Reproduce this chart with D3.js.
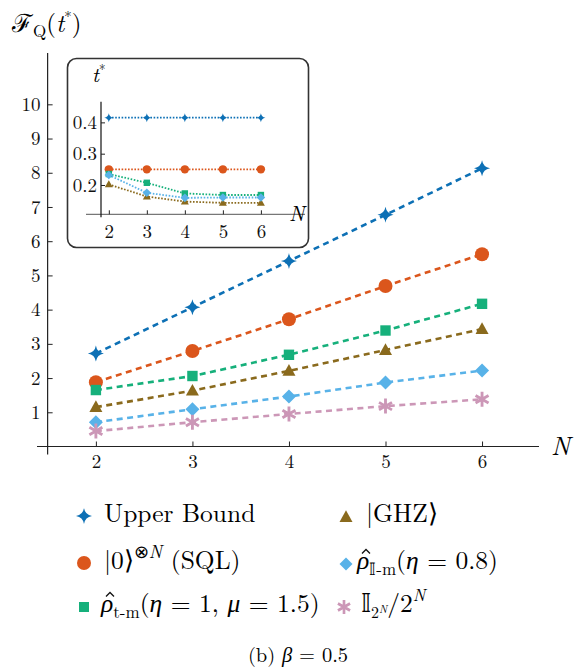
<!DOCTYPE html>
<html>
<head>
<meta charset="utf-8">
<script src="https://cdn.jsdelivr.net/npm/d3@7"></script>
<style>
  body { margin: 0; background: #fff; }
  svg { display: block; }
</style>
</head>
<body>
<div class="chart"></div>
<script>
// Main plot data: F_Q(t*) against N
const N = [2, 3, 4, 5, 6];
const upperBound = [2.72, 4.07, 5.42, 6.77, 8.13];
const sql = [1.88, 2.79, 3.72, 4.69, 5.62];
const tMixed = [1.65, 2.06, 2.68, 3.39, 4.17];
const ghz = [1.15, 1.63, 2.21, 2.82, 3.43];
const iMixed = [0.71, 1.09, 1.46, 1.87, 2.22];
const maxMixed = [0.45, 0.71, 0.95, 1.18, 1.38];

// Inset data: t* against N
const tUpper = [0.415, 0.415, 0.415, 0.415, 0.415];
const tSql = [0.25, 0.25, 0.25, 0.25, 0.25];
const tTm = [0.235, 0.207, 0.173, 0.168, 0.168];
const tIm = [0.232, 0.175, 0.159, 0.160, 0.160];
const tGhz = [0.202, 0.163, 0.147, 0.143, 0.143];

// Tick labels
const yTicks = [1, 2, 3, 4, 5, 6, 7, 8, 9, 10];
const insetYTicks = [0.2, 0.3, 0.4];

const colors = {
    upper: '#0d70b5',
    sql: '#db561c',
    tm: '#16b07b',
    ghz: '#8a6a1d',
    im: '#58b2e8',
    mixed: '#cc97b7'
};

const svg = d3.select('.chart')
    .append('svg')
        .attr('width', 574)
        .attr('height', 668);

// Marker shapes
function starPath(r) {
    const k = r * 0.14;
    return `M0,${-r} Q${k},${-k} ${r},0 Q${k},${k} 0,${r} Q${-k},${k} ${-r},0 Q${-k},${-k} 0,${-r}Z`;
}
function drawMarker(g, type, cx, cy, s, color) {
    const m = g.append('g').attr('transform', `translate(${cx},${cy})`);
    if (type === 'star') {
        m.append('path').attr('d', starPath(s)).attr('fill', color);
    } else if (type === 'circle') {
        m.append('circle').attr('r', s).attr('fill', color);
    } else if (type === 'square') {
        m.append('rect').attr('x', -s).attr('y', -s).attr('width', 2 * s).attr('height', 2 * s).attr('fill', color);
    } else if (type === 'triangle') {
        m.append('path').attr('d', `M0,${-s * 1.05} L${s},${s * 0.75} L${-s},${s * 0.75}Z`).attr('fill', color);
    } else if (type === 'diamond') {
        m.append('path').attr('d', `M0,${-s} L${s},0 L0,${s} L${-s},0Z`).attr('fill', color);
    } else if (type === 'asterisk') {
        const a = s * Math.cos(Math.PI / 6), b = s * 0.5;
        m.append('path')
            .attr('d', `M0,${-s}L0,${s}M${-a},${-b}L${a},${b}M${-a},${b}L${a},${-b}`)
            .attr('stroke', color)
            .attr('stroke-width', s * 0.38)
            .attr('fill', 'none');
    }
}

// ---------- Main plot ----------
const x = d3.scaleLinear().domain([1.39, 6.59]).range([37, 539]);
const y = d3.scaleLinear().domain([0, 11.5]).range([446.5, 53]);

const main = svg.append('g');

// Axes lines
main.append('line')
    .attr('x1', x(1.39)).attr('x2', x(6.59))
    .attr('y1', y(0)).attr('y2', y(0))
    .attr('stroke', '#222').attr('stroke-width', 1.2);
main.append('line')
    .attr('x1', x(1.5)).attr('x2', x(1.5))
    .attr('y1', y(11.5)).attr('y2', y(0) + 8)
    .attr('stroke', '#222').attr('stroke-width', 1.2);

const yAxis = main.append('g')
    .attr('transform', `translate(${x(1.5)},0)`)
    .call(d3.axisLeft(y).tickValues(yTicks).tickFormat(d3.format('d')).tickSize(-5).tickPadding(7));
const xAxis = main.append('g')
    .attr('transform', `translate(0,${y(0)})`)
    .call(d3.axisBottom(x).tickValues(N).tickFormat(d3.format('d')).tickSize(-5).tickPadding(8));
[yAxis, xAxis].forEach(a => {
    a.select('.domain').remove();
    a.attr('font-family', null).attr('font-size', null);
    a.selectAll('line').attr('stroke', '#222').attr('stroke-width', 1);
    a.selectAll('text').style('font-size', '19px').attr('fill', '#111');
});

main.append('text')
    .attr('x', 551).attr('y', 455)
    .style('font-size', '26px').style('font-style', 'italic')
    .text('N');

// Y axis label
const yl = main.append('text').attr('x', 12).attr('y', 32).style('font-size', '25px');
yl.append('tspan').text('ℱ');
yl.append('tspan').attr('dy', 5).style('font-size', '17px').text('Q');
yl.append('tspan').attr('dy', -5).text('(');
yl.append('tspan').style('font-style', 'italic').text('t');
yl.append('tspan').attr('dy', -10).style('font-size', '15px').text('*');
yl.append('tspan').attr('dy', 10).text(')');

// Series
const series = [
    {vals: upperBound, color: colors.upper, type: 'star', s: 8},
    {vals: sql, color: colors.sql, type: 'circle', s: 7},
    {vals: tMixed, color: colors.tm, type: 'square', s: 5.2},
    {vals: ghz, color: colors.ghz, type: 'triangle', s: 6.5},
    {vals: iMixed, color: colors.im, type: 'diamond', s: 7},
    {vals: maxMixed, color: colors.mixed, type: 'asterisk', s: 7.5}
];
const line = d3.line().x((d, i) => x(N[i])).y(d => y(d));
series.forEach(sr => {
    main.append('path')
        .datum(sr.vals)
        .attr('d', line)
        .attr('fill', 'none')
        .attr('stroke', sr.color)
        .attr('stroke-width', 2.6)
        .attr('stroke-dasharray', '6,4.5');
});
series.forEach(sr => {
    sr.vals.forEach((v, i) => drawMarker(main, sr.type, x(N[i]), y(v), sr.s, sr.color));
});

// ---------- Inset ----------
const inset = svg.append('g');
inset.append('rect')
    .attr('x', 67.5).attr('y', 58.5)
    .attr('width', 241).attr('height', 189)
    .attr('rx', 9)
    .attr('fill', '#fff')
    .attr('stroke', '#333')
    .attr('stroke-width', 1.6);

const ix = d3.scaleLinear().domain([1.4, 7.16]).range([86, 305]);
const iy = d3.scaleLinear().domain([0.1064, 0.466]).range([214.3, 101.7]);

inset.append('line')
    .attr('x1', ix(1.4)).attr('x2', ix(7.16))
    .attr('y1', iy(0.1064)).attr('y2', iy(0.1064))
    .attr('stroke', '#777').attr('stroke-width', 1.2);
inset.append('line')
    .attr('x1', 101).attr('x2', 101)
    .attr('y1', iy(0.466)).attr('y2', iy(0.1064) + 3)
    .attr('stroke', '#111').attr('stroke-width', 1.2);

const iyAxis = inset.append('g')
    .attr('transform', 'translate(101,0)')
    .call(d3.axisLeft(iy).tickValues(insetYTicks).tickFormat(d3.format('.1f')).tickSize(-4).tickPadding(4));
const ixAxis = inset.append('g')
    .attr('transform', `translate(0,${iy(0.1064)})`)
    .call(d3.axisBottom(ix).tickValues(N).tickFormat(d3.format('d')).tickSize(-4).tickPadding(10));
[iyAxis, ixAxis].forEach(a => {
    a.select('.domain').remove();
    a.attr('font-family', null).attr('font-size', null);
    a.selectAll('line').attr('stroke', '#222').attr('stroke-width', 1);
    a.selectAll('text').style('font-size', '19px').attr('fill', '#111');
});

const tl = inset.append('text').attr('x', 92).attr('y', 82).style('font-size', '21px');
tl.append('tspan').style('font-style', 'italic').text('t');
tl.append('tspan').attr('dy', -8).style('font-size', '13px').text('*');
inset.append('text')
    .attr('x', 289).attr('y', 221)
    .style('font-size', '21px').style('font-style', 'italic')
    .text('N');

const insetSeries = [
    {vals: tUpper, color: colors.upper, type: 'star', s: 4.5},
    {vals: tSql, color: colors.sql, type: 'circle', s: 4.2},
    {vals: tTm, color: colors.tm, type: 'square', s: 3.2},
    {vals: tGhz, color: colors.ghz, type: 'triangle', s: 4},
    {vals: tIm, color: colors.im, type: 'diamond', s: 4.3}
];
const iline = d3.line().x((d, i) => ix(N[i])).y(d => iy(d));
insetSeries.forEach(sr => {
    inset.append('path')
        .datum(sr.vals)
        .attr('d', iline)
        .attr('fill', 'none')
        .attr('stroke', sr.color)
        .attr('stroke-width', 1.8)
        .attr('stroke-dasharray', '1.6,1.6');
});
insetSeries.forEach(sr => {
    sr.vals.forEach((v, i) => drawMarker(inset, sr.type, ix(N[i]), iy(v), sr.s, sr.color));
});

// ---------- Legend ----------
const legend = svg.append('g').style('font-size', '25.5px');
function legendItem(type, color, s, mx, my, tx, ty) {
    drawMarker(legend, type, mx, my, s, color);
    return legend.append('text').attr('x', tx).attr('y', ty);
}
// rho with a hat (drawn as a small chevron) and its subscript
function rhoHat(t, tx, ty, sub) {
    t.append('tspan').style('font-style', 'italic').text('ρ');
    t.append('tspan').attr('dy', 6).style('font-size', '17px').text(sub);
    legend.append('path')
        .attr('d', `M${tx + 5},${ty - 15.5} L${tx + 9},${ty - 19.5} L${tx + 13},${ty - 15.5}`)
        .attr('fill', 'none')
        .attr('stroke', '#111')
        .attr('stroke-width', 1.3);
}
legendItem('star', colors.upper, 8, 84, 516, 104, 522).text('Upper Bound');
legendItem('triangle', colors.ghz, 6.5, 346, 517, 366, 522).text('|GHZ⟩');

let t = legendItem('circle', colors.sql, 7, 84, 563, 104, 569);
t.append('tspan').text('|0⟩');
t.append('tspan').attr('dy', -11).style('font-size', '18px').text('⊗');
t.append('tspan').style('font-size', '18px').style('font-style', 'italic').text('N');
t.append('tspan').attr('dy', 11).text(' (SQL)');

t = legendItem('diamond', colors.im, 6.5, 346, 564, 357, 569);
rhoHat(t, 357, 569, '𝕀-m');
t.append('tspan').attr('dy', -6).text('(');
t.append('tspan').style('font-style', 'italic').text('η');
t.append('tspan').text(' = 0.8)');

t = legendItem('square', colors.tm, 5, 84, 607, 101, 612);
rhoHat(t, 101, 612, 't-m');
t.append('tspan').attr('dy', -6).text('(');
t.append('tspan').style('font-style', 'italic').text('η');
t.append('tspan').text(' = 1, ');
t.append('tspan').style('font-style', 'italic').text('μ');
t.append('tspan').text(' = 1.5)');

t = legendItem('asterisk', colors.mixed, 7, 344, 607, 361, 612);
t.append('tspan').text('𝕀');
t.append('tspan').attr('dy', 6).style('font-size', '16px').text('2');
t.append('tspan').attr('dy', -5).style('font-size', '11px').style('font-style', 'italic').text('N');
t.append('tspan').attr('dy', -1).text('/2');
t.append('tspan').attr('dy', -11).style('font-size', '17px').style('font-style', 'italic').text('N');

// Caption
const cap = svg.append('text')
    .attr('x', 298).attr('y', 662)
    .attr('text-anchor', 'middle')
    .style('font-size', '20.5px');
cap.append('tspan').text('(b) ');
cap.append('tspan').style('font-style', 'italic').text('β');
cap.append('tspan').text(' = 0.5');

// Serif font on every text
svg.selectAll('text').style('font-family', '"Latin Modern Roman", "Liberation Serif", serif');
</script>
</body>
</html>
